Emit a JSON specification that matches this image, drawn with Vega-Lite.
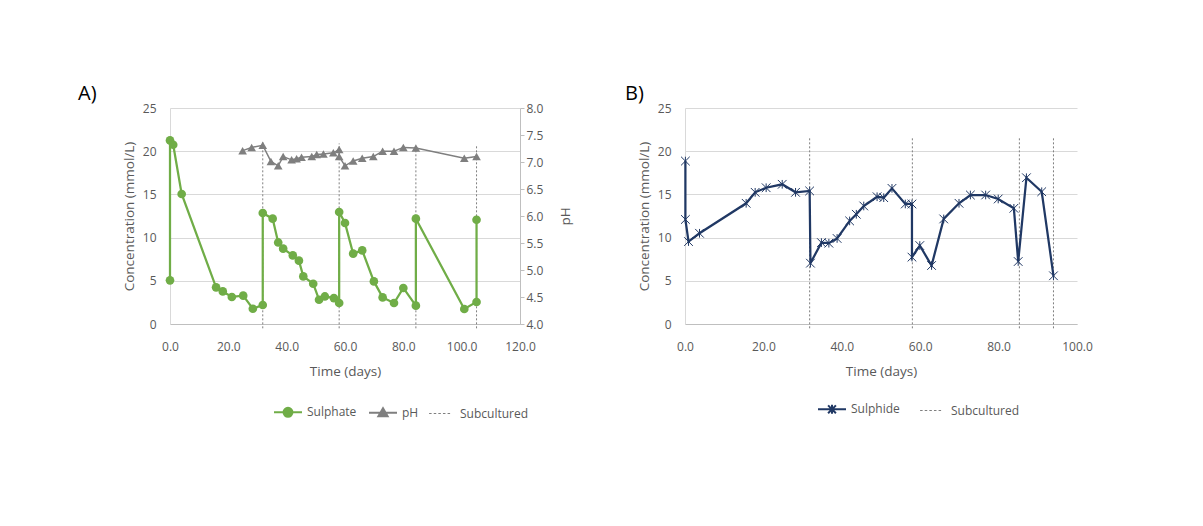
{
  "$schema": "https://vega.github.io/schema/vega-lite/v6.json",
  "background": "white",
  "padding": {"left": 78, "top": 84, "right": 0, "bottom": 0},
  "spacing": 52,
  "datasets": {
    "sulphate": [
      {"i": 1, "day": 0, "v": 5.05, "series": "Sulphate"},
      {"i": 2, "day": 0, "v": 21.25, "series": "Sulphate"},
      {"i": 3, "day": 1.1, "v": 20.75, "series": "Sulphate"},
      {"i": 4, "day": 4.0, "v": 15.05, "series": "Sulphate"},
      {"i": 5, "day": 15.8, "v": 4.24, "series": "Sulphate"},
      {"i": 6, "day": 18.1, "v": 3.77, "series": "Sulphate"},
      {"i": 7, "day": 21.2, "v": 3.13, "series": "Sulphate"},
      {"i": 8, "day": 25.1, "v": 3.28, "series": "Sulphate"},
      {"i": 9, "day": 28.4, "v": 1.77, "series": "Sulphate"},
      {"i": 10, "day": 31.8, "v": 2.2, "series": "Sulphate"},
      {"i": 11, "day": 31.8, "v": 12.85, "series": "Sulphate"},
      {"i": 12, "day": 35.2, "v": 12.19, "series": "Sulphate"},
      {"i": 13, "day": 37.1, "v": 9.44, "series": "Sulphate"},
      {"i": 14, "day": 38.8, "v": 8.72, "series": "Sulphate"},
      {"i": 15, "day": 42.1, "v": 7.94, "series": "Sulphate"},
      {"i": 16, "day": 44.2, "v": 7.33, "series": "Sulphate"},
      {"i": 17, "day": 45.7, "v": 5.51, "series": "Sulphate"},
      {"i": 18, "day": 49.1, "v": 4.66, "series": "Sulphate"},
      {"i": 19, "day": 51.1, "v": 2.81, "series": "Sulphate"},
      {"i": 20, "day": 53.1, "v": 3.19, "series": "Sulphate"},
      {"i": 21, "day": 56.2, "v": 3.0, "series": "Sulphate"},
      {"i": 22, "day": 58.0, "v": 2.43, "series": "Sulphate"},
      {"i": 23, "day": 58.0, "v": 12.96, "series": "Sulphate"},
      {"i": 24, "day": 60.0, "v": 11.69, "series": "Sulphate"},
      {"i": 25, "day": 62.8, "v": 8.14, "series": "Sulphate"},
      {"i": 26, "day": 65.9, "v": 8.52, "series": "Sulphate"},
      {"i": 27, "day": 69.9, "v": 4.93, "series": "Sulphate"},
      {"i": 28, "day": 72.9, "v": 3.08, "series": "Sulphate"},
      {"i": 29, "day": 76.8, "v": 2.43, "series": "Sulphate"},
      {"i": 30, "day": 80.0, "v": 4.17, "series": "Sulphate"},
      {"i": 31, "day": 84.3, "v": 2.12, "series": "Sulphate"},
      {"i": 32, "day": 84.3, "v": 12.19, "series": "Sulphate"},
      {"i": 33, "day": 100.9, "v": 1.74, "series": "Sulphate"},
      {"i": 34, "day": 105.1, "v": 2.55, "series": "Sulphate"},
      {"i": 35, "day": 105.1, "v": 12.07, "series": "Sulphate"}
    ],
    "ph": [
      {"i": 1, "day": 24.9, "v": 7.21, "series": "pH"},
      {"i": 2, "day": 28.0, "v": 7.27, "series": "pH"},
      {"i": 3, "day": 31.8, "v": 7.31, "series": "pH"},
      {"i": 4, "day": 34.6, "v": 7.01, "series": "pH"},
      {"i": 5, "day": 37.1, "v": 6.93, "series": "pH"},
      {"i": 6, "day": 38.8, "v": 7.1, "series": "pH"},
      {"i": 7, "day": 41.7, "v": 7.04, "series": "pH"},
      {"i": 8, "day": 43.4, "v": 7.06, "series": "pH"},
      {"i": 9, "day": 45.1, "v": 7.09, "series": "pH"},
      {"i": 10, "day": 48.6, "v": 7.1, "series": "pH"},
      {"i": 11, "day": 50.3, "v": 7.14, "series": "pH"},
      {"i": 12, "day": 52.6, "v": 7.15, "series": "pH"},
      {"i": 13, "day": 56.0, "v": 7.17, "series": "pH"},
      {"i": 14, "day": 58.0, "v": 7.23, "series": "pH"},
      {"i": 15, "day": 58.0, "v": 7.1, "series": "pH"},
      {"i": 16, "day": 60.0, "v": 6.93, "series": "pH"},
      {"i": 17, "day": 62.8, "v": 7.02, "series": "pH"},
      {"i": 18, "day": 65.9, "v": 7.07, "series": "pH"},
      {"i": 19, "day": 69.7, "v": 7.1, "series": "pH"},
      {"i": 20, "day": 72.9, "v": 7.2, "series": "pH"},
      {"i": 21, "day": 76.8, "v": 7.2, "series": "pH"},
      {"i": 22, "day": 80.0, "v": 7.27, "series": "pH"},
      {"i": 23, "day": 84.3, "v": 7.26, "series": "pH"},
      {"i": 24, "day": 100.9, "v": 7.07, "series": "pH"},
      {"i": 25, "day": 105.1, "v": 7.1, "series": "pH"}
    ],
    "subA": [
      {"day": 31.8, "y0": -0.5, "y1": 21.1, "series": "Subcultured"},
      {"day": 58.0, "y0": -0.5, "y1": 20.9, "series": "Subcultured"},
      {"day": 84.3, "y0": -0.5, "y1": 20.75, "series": "Subcultured"},
      {"day": 105.1, "y0": -0.5, "y1": 20.6, "series": "Subcultured"}
    ],
    "sulphide": [
      {"i": 1, "day": 0.1, "v": 18.86, "series": "Sulphide"},
      {"i": 2, "day": 0.1, "v": 12.1, "series": "Sulphide"},
      {"i": 3, "day": 0.9, "v": 9.54, "series": "Sulphide"},
      {"i": 4, "day": 3.7, "v": 10.5, "series": "Sulphide"},
      {"i": 5, "day": 15.6, "v": 13.97, "series": "Sulphide"},
      {"i": 6, "day": 17.9, "v": 15.24, "series": "Sulphide"},
      {"i": 7, "day": 20.7, "v": 15.77, "series": "Sulphide"},
      {"i": 8, "day": 24.8, "v": 16.17, "series": "Sulphide"},
      {"i": 9, "day": 28.2, "v": 15.24, "series": "Sulphide"},
      {"i": 10, "day": 31.8, "v": 15.4, "series": "Sulphide"},
      {"i": 11, "day": 32.0, "v": 7.04, "series": "Sulphide"},
      {"i": 12, "day": 34.8, "v": 9.42, "series": "Sulphide"},
      {"i": 13, "day": 36.7, "v": 9.35, "series": "Sulphide"},
      {"i": 14, "day": 38.8, "v": 9.9, "series": "Sulphide"},
      {"i": 15, "day": 42.0, "v": 11.93, "series": "Sulphide"},
      {"i": 16, "day": 43.7, "v": 12.7, "series": "Sulphide"},
      {"i": 17, "day": 45.6, "v": 13.66, "series": "Sulphide"},
      {"i": 18, "day": 49.0, "v": 14.73, "series": "Sulphide"},
      {"i": 19, "day": 50.7, "v": 14.62, "series": "Sulphide"},
      {"i": 20, "day": 52.8, "v": 15.7, "series": "Sulphide"},
      {"i": 21, "day": 56.2, "v": 13.89, "series": "Sulphide"},
      {"i": 22, "day": 57.9, "v": 13.89, "series": "Sulphide"},
      {"i": 23, "day": 57.9, "v": 7.74, "series": "Sulphide"},
      {"i": 24, "day": 59.9, "v": 9.08, "series": "Sulphide"},
      {"i": 25, "day": 62.9, "v": 6.77, "series": "Sulphide"},
      {"i": 26, "day": 66.0, "v": 12.16, "series": "Sulphide"},
      {"i": 27, "day": 69.9, "v": 13.97, "series": "Sulphide"},
      {"i": 28, "day": 72.8, "v": 14.93, "series": "Sulphide"},
      {"i": 29, "day": 76.7, "v": 14.93, "series": "Sulphide"},
      {"i": 30, "day": 79.9, "v": 14.47, "series": "Sulphide"},
      {"i": 31, "day": 83.9, "v": 13.39, "series": "Sulphide"},
      {"i": 32, "day": 85.0, "v": 7.23, "series": "Sulphide"},
      {"i": 33, "day": 87.1, "v": 16.93, "series": "Sulphide"},
      {"i": 34, "day": 91.0, "v": 15.31, "series": "Sulphide"},
      {"i": 35, "day": 94.0, "v": 5.58, "series": "Sulphide"}
    ],
    "subB": [
      {"day": 31.8, "y0": -0.5, "y1": 21.5, "series": "Subcultured"},
      {"day": 58.0, "y0": -0.5, "y1": 21.5, "series": "Subcultured"},
      {"day": 85.3, "y0": -0.5, "y1": 21.5, "series": "Subcultured"},
      {"day": 94.0, "y0": -0.5, "y1": 21.5, "series": "Subcultured"}
    ]
  },
  "hconcat": [
    {
      "width": 350,
      "height": 216,
      "title": {"text": "A)", "anchor": "start", "frame": "group", "dx": -92, "offset": -18, "baseline": "alphabetic", "fontSize": 20, "font": "Open Sans", "fontWeight": "normal", "color": "#000000"},
      "layer": [
        {
          "layer": [
            {
              "data": {"name": "subA"},
              "mark": {"type": "rule", "strokeDash": [2, 2], "strokeWidth": 1},
              "encoding": {
                "x": {"field": "day", "type": "quantitative", "scale": {"domain": [0, 120], "nice": false, "zero": false}, "axis": {"title": "Time (days)", "values": [0, 20, 40, 60, 80, 100, 120], "format": ".1f", "grid": false, "ticks": false, "labelFlush": false, "labelPadding": 17, "titlePadding": 12, "domainColor": "#bfbfbf"}},
                "y": {"field": "y0", "type": "quantitative", "scale": {"domain": [0, 25], "nice": false}, "axis": {"title": "Concentration (mmol/L)", "values": [0, 5, 10, 15, 20, 25], "grid": true, "ticks": false, "labelFlush": false, "labelPadding": 14, "titlePadding": 6, "domainColor": "#d9d9d9"}},
                "y2": {"field": "y1"},
                "color": {"field": "series", "type": "nominal", "scale": {"domain": ["Sulphate", "pH", "Subcultured"], "range": ["#70AD47", "#7F7F7F", "#7F7F7F"]},
                  "legend": {"orient": "none", "legendX": 112, "legendY": 298, "direction": "horizontal", "title": null, "symbolSize": 784, "labelFontSize": 12, "labelColor": "#595959", "labelOffset": 13, "columnPadding": 8, "padding": 0,
                    "encode": {"symbols": {"update": {
                      "shape": {"signal": "datum.value === 'Sulphate' ? 'M-1,0H1M0.32,0A0.32,0.32 0 1,1 -0.32,0A0.32,0.32 0 1,1 0.32,0' : datum.value === 'pH' ? 'M-1,0H1M0,-0.32L0.33,0.25L-0.33,0.25Z' : 'M-0.85,0H-0.67M-0.52,0H-0.34M-0.19,0H-0.01M0.14,0H0.32M0.47,0H0.65'"},
                      "fill": {"signal": "datum.value === 'Sulphate' ? '#70AD47' : datum.value === 'pH' ? '#7F7F7F' : 'transparent'"},
                      "stroke": {"signal": "datum.value === 'Sulphate' ? '#70AD47' : '#7F7F7F'"},
                      "strokeWidth": {"signal": "datum.value === 'Subcultured' ? 1 : 2"},
                      "opacity": {"value": 1}
                    }}}}}
              }
            },
            {
              "data": {"name": "sulphate"},
              "mark": {"type": "line", "strokeWidth": 2.25},
              "encoding": {
                "x": {"field": "day", "type": "quantitative", "scale": {"domain": [0, 120], "nice": false, "zero": false}, "axis": {"title": "Time (days)", "values": [0, 20, 40, 60, 80, 100, 120], "format": ".1f", "grid": false, "ticks": false, "labelFlush": false, "labelPadding": 17, "titlePadding": 12, "domainColor": "#bfbfbf"}},
                "y": {"field": "v", "type": "quantitative", "scale": {"domain": [0, 25], "nice": false}, "axis": {"title": "Concentration (mmol/L)", "values": [0, 5, 10, 15, 20, 25], "grid": true, "ticks": false, "labelFlush": false, "labelPadding": 14, "titlePadding": 6, "domainColor": "#d9d9d9"}},
                "order": {"field": "i", "type": "quantitative"},
                "color": {"field": "series", "type": "nominal", "scale": {"domain": ["Sulphate", "pH", "Subcultured"], "range": ["#70AD47", "#7F7F7F", "#7F7F7F"]}}
              }
            },
            {
              "data": {"name": "sulphate"},
              "mark": {"type": "point", "shape": "circle", "filled": true, "size": 75, "opacity": 1},
              "encoding": {
                "x": {"field": "day", "type": "quantitative", "scale": {"domain": [0, 120], "nice": false, "zero": false}, "axis": {"title": "Time (days)", "values": [0, 20, 40, 60, 80, 100, 120], "format": ".1f", "grid": false, "ticks": false, "labelFlush": false, "labelPadding": 17, "titlePadding": 12, "domainColor": "#bfbfbf"}},
                "y": {"field": "v", "type": "quantitative", "scale": {"domain": [0, 25], "nice": false}, "axis": {"title": "Concentration (mmol/L)", "values": [0, 5, 10, 15, 20, 25], "grid": true, "ticks": false, "labelFlush": false, "labelPadding": 14, "titlePadding": 6, "domainColor": "#d9d9d9"}},
                "color": {"field": "series", "type": "nominal", "scale": {"domain": ["Sulphate", "pH", "Subcultured"], "range": ["#70AD47", "#7F7F7F", "#7F7F7F"]}}
              }
            }
          ]
        },
        {
          "layer": [
            {
              "data": {"name": "ph"},
              "mark": {"type": "line", "strokeWidth": 1.5},
              "encoding": {
                "x": {"field": "day", "type": "quantitative", "scale": {"domain": [0, 120], "nice": false, "zero": false}, "axis": {"title": "Time (days)", "values": [0, 20, 40, 60, 80, 100, 120], "format": ".1f", "grid": false, "ticks": false, "labelFlush": false, "labelPadding": 17, "titlePadding": 12, "domainColor": "#bfbfbf"}},
                "y": {"field": "v", "type": "quantitative", "scale": {"domain": [4, 8], "nice": false, "zero": false}, "axis": {"orient": "right", "title": "pH", "titleAngle": 270, "values": [4, 4.5, 5, 5.5, 6, 6.5, 7, 7.5, 8], "format": ".1f", "grid": false, "ticks": true, "tickSize": 4, "labelFlush": false, "labelPadding": 2, "titlePadding": 30, "domainColor": "#bfbfbf", "tickColor": "#bfbfbf"}},
                "order": {"field": "i", "type": "quantitative"},
                "color": {"field": "series", "type": "nominal", "scale": {"domain": ["Sulphate", "pH", "Subcultured"], "range": ["#70AD47", "#7F7F7F", "#7F7F7F"]}}
              }
            },
            {
              "data": {"name": "ph"},
              "mark": {"type": "point", "shape": "triangle-up", "filled": true, "size": 75, "opacity": 1},
              "encoding": {
                "x": {"field": "day", "type": "quantitative", "scale": {"domain": [0, 120], "nice": false, "zero": false}, "axis": {"title": "Time (days)", "values": [0, 20, 40, 60, 80, 100, 120], "format": ".1f", "grid": false, "ticks": false, "labelFlush": false, "labelPadding": 17, "titlePadding": 12, "domainColor": "#bfbfbf"}},
                "y": {"field": "v", "type": "quantitative", "scale": {"domain": [4, 8], "nice": false, "zero": false}, "axis": {"orient": "right", "title": "pH", "titleAngle": 270, "values": [4, 4.5, 5, 5.5, 6, 6.5, 7, 7.5, 8], "format": ".1f", "grid": false, "ticks": true, "tickSize": 4, "labelFlush": false, "labelPadding": 2, "titlePadding": 30, "domainColor": "#bfbfbf", "tickColor": "#bfbfbf"}},
                "color": {"field": "series", "type": "nominal", "scale": {"domain": ["Sulphate", "pH", "Subcultured"], "range": ["#70AD47", "#7F7F7F", "#7F7F7F"]}}
              }
            }
          ]
        }
      ],
      "resolve": {"scale": {"y": "independent"}, "axis": {"y": "independent"}}
    },
    {
      "width": 392,
      "height": 216,
      "title": {"text": "B)", "anchor": "start", "frame": "group", "dx": -60, "offset": -18, "baseline": "alphabetic", "fontSize": 20, "font": "Open Sans", "fontWeight": "normal", "color": "#000000"},
      "layer": [
        {
          "data": {"name": "subB"},
          "mark": {"type": "rule", "strokeDash": [2, 2], "strokeWidth": 1},
          "encoding": {
            "x": {"field": "day", "type": "quantitative", "scale": {"domain": [0, 100], "nice": false, "zero": false}, "axis": {"title": "Time (days)", "values": [0, 20, 40, 60, 80, 100], "format": ".1f", "grid": false, "ticks": false, "labelFlush": false, "labelPadding": 17, "titlePadding": 12, "domainColor": "#bfbfbf"}},
            "y": {"field": "y0", "type": "quantitative", "scale": {"domain": [0, 25], "nice": false}, "axis": {"title": "Concentration (mmol/L)", "values": [0, 5, 10, 15, 20, 25], "grid": true, "ticks": false, "labelFlush": false, "labelPadding": 14, "titlePadding": 6, "domainColor": "#d9d9d9"}},
            "y2": {"field": "y1"},
            "color": {"field": "series", "type": "nominal", "scale": {"domain": ["Sulphide", "Subcultured"], "range": ["#203864", "#7F7F7F"]},
              "legend": {"orient": "none", "legendX": 141, "legendY": 295, "direction": "horizontal", "title": null, "symbolSize": 784, "labelFontSize": 12, "labelColor": "#595959", "labelOffset": 13, "columnPadding": 18, "padding": 0,
                "encode": {"symbols": {"update": {
                  "shape": {"signal": "datum.value === 'Sulphide' ? 'M-1,0H1M-0.28,-0.28L0.28,0.28M-0.28,0.28L0.28,-0.28M0,-0.32V0.32' : 'M-0.85,0H-0.67M-0.52,0H-0.34M-0.19,0H-0.01M0.14,0H0.32M0.47,0H0.65'"},
                  "fill": {"value": "transparent"},
                  "stroke": {"signal": "datum.value === 'Sulphide' ? '#203864' : '#7F7F7F'"},
                  "strokeWidth": {"signal": "datum.value === 'Subcultured' ? 1 : 2"},
                  "opacity": {"value": 1}
                }}}}}
          }
        },
        {
          "data": {"name": "sulphide"},
          "mark": {"type": "line", "strokeWidth": 2.25},
          "encoding": {
            "x": {"field": "day", "type": "quantitative", "scale": {"domain": [0, 100], "nice": false, "zero": false}, "axis": {"title": "Time (days)", "values": [0, 20, 40, 60, 80, 100], "format": ".1f", "grid": false, "ticks": false, "labelFlush": false, "labelPadding": 17, "titlePadding": 12, "domainColor": "#bfbfbf"}},
            "y": {"field": "v", "type": "quantitative", "scale": {"domain": [0, 25], "nice": false}, "axis": {"title": "Concentration (mmol/L)", "values": [0, 5, 10, 15, 20, 25], "grid": true, "ticks": false, "labelFlush": false, "labelPadding": 14, "titlePadding": 6, "domainColor": "#d9d9d9"}},
            "order": {"field": "i", "type": "quantitative"},
            "color": {"field": "series", "type": "nominal", "scale": {"domain": ["Sulphide", "Subcultured"], "range": ["#203864", "#7F7F7F"]}}
          }
        },
        {
          "data": {"name": "sulphide"},
          "mark": {"type": "point", "shape": "M-1,-1L1,1M-1,1L1,-1M0,-1V1", "filled": false, "size": 75, "strokeWidth": 1, "opacity": 1},
          "encoding": {
            "x": {"field": "day", "type": "quantitative", "scale": {"domain": [0, 100], "nice": false, "zero": false}, "axis": {"title": "Time (days)", "values": [0, 20, 40, 60, 80, 100], "format": ".1f", "grid": false, "ticks": false, "labelFlush": false, "labelPadding": 17, "titlePadding": 12, "domainColor": "#bfbfbf"}},
            "y": {"field": "v", "type": "quantitative", "scale": {"domain": [0, 25], "nice": false}, "axis": {"title": "Concentration (mmol/L)", "values": [0, 5, 10, 15, 20, 25], "grid": true, "ticks": false, "labelFlush": false, "labelPadding": 14, "titlePadding": 6, "domainColor": "#d9d9d9"}},
            "color": {"field": "series", "type": "nominal", "scale": {"domain": ["Sulphide", "Subcultured"], "range": ["#203864", "#7F7F7F"]}}
          }
        }
      ]
    }
  ],
  "resolve": {"scale": {"x": "independent", "y": "independent", "color": "independent"}, "legend": {"color": "independent"}},
  "config": {
    "font": "Open Sans",
    "view": {"stroke": null},
    "axis": {"labelColor": "#595959", "titleColor": "#595959", "labelFontSize": 12, "titleFontSize": 13.5, "titleFontWeight": "normal", "gridColor": "#d9d9d9", "domainColor": "#d9d9d9", "tickColor": "#bfbfbf", "labelFont": "Open Sans", "titleFont": "Open Sans"},
    "legend": {"labelFont": "Open Sans"}
  }
}
